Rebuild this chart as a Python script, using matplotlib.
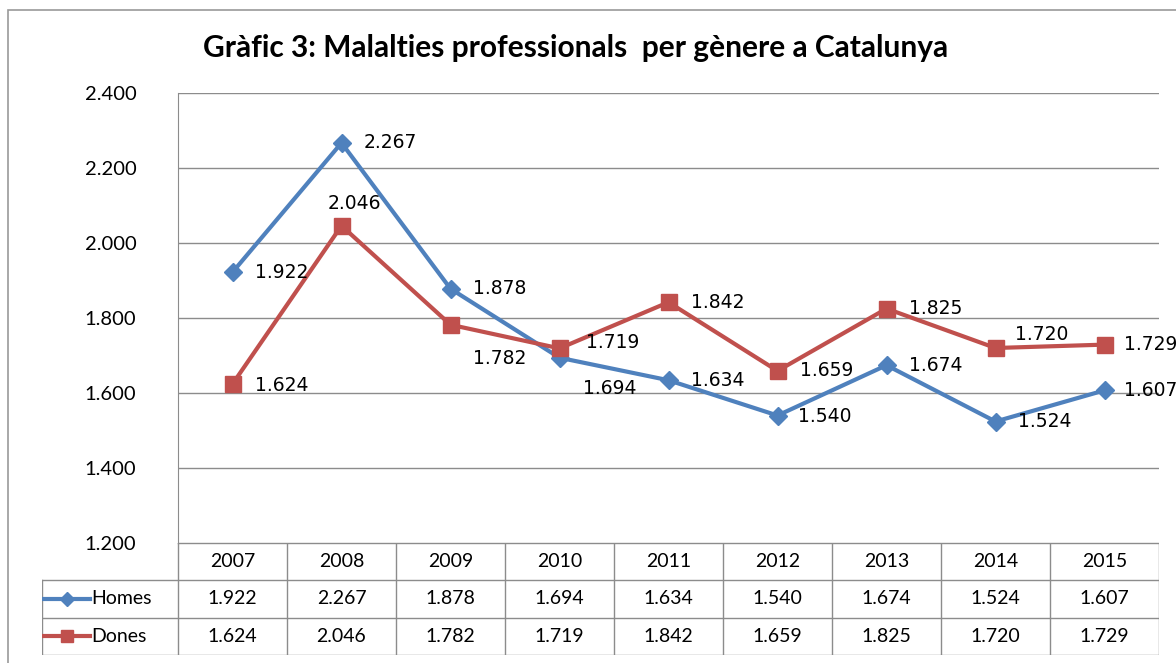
import matplotlib.pyplot as plt
import numpy as np

# Dades
anys = ['2007', '2008', '2009', '2010', '2011', '2012', '2013', '2014', '2015']
homes = [1922, 2267, 1878, 1694, 1634, 1540, 1674, 1524, 1607]
dones = [1624, 2046, 1782, 1719, 1842, 1659, 1825, 1720, 1729]
titol = 'Gràfic 3: Malalties professionals  per gènere a Catalunya'

# posicio de les etiquetes (desplaçament en punts)
off_homes = [(16, 0), (16, 0), (16, 0), (17, -22), (16, 0), (15, -1), (16, 0), (16, 0), (14, 0)]
off_dones = [(16, -1), (9, 16), (16, -24), (19, 4), (16, 0), (16, 0), (16, 0), (14, 10), (14, 0)]

blau = '#4F81BD'
vermell = '#C0504D'
gris = '#8C8C8C'
fnt = 'Lato'

W, H = 1176, 663
fig = plt.figure(figsize=(W / 100, H / 100), dpi=100)

# marc exterior
fig.add_artist(plt.Rectangle((8 / W, -0.1), 1.2, (H - 10) / H + 0.1,
                             transform=fig.transFigure, fill=False,
                             ec='#9a9a9a', lw=1.2))

fig.text(576 / W, 1 - 48 / H, titol, ha='center', va='center',
         fontsize=21.5, fontweight='bold', family=fnt)

x = np.arange(len(anys))
ax = fig.add_axes([178 / W, (H - 543) / H, (1159 - 178) / W, (543 - 93) / H])
ax.set_xlim(-0.5, len(anys) - 0.5)
ax.set_ylim(1200, 2400)
ax.set_yticks(np.arange(1200, 2401, 200))
ax.set_yticklabels(['{:.3f}'.format(v / 1000) for v in np.arange(1200, 2401, 200)],
                   family=fnt, fontsize=14.5)
ax.tick_params(axis='y', length=0, pad=30)
ax.set_xticks([])
ax.grid(axis='y', color=gris, lw=1)
for s in ['top', 'right', 'bottom']:
    ax.spines[s].set_visible(False)
ax.spines['left'].set_color(gris)

ax.plot(x, homes, color=blau, lw=3, marker='D', ms=9, zorder=3)
ax.plot(x, dones, color=vermell, lw=3, marker='s', ms=12, zorder=3)

for i in range(len(anys)):
    for val, off in ((homes[i], off_homes[i]), (dones[i], off_dones[i])):
        ha = 'center' if i == 1 and val == dones[1] else 'left'
        ax.annotate('{:.3f}'.format(val / 1000), (x[i], val), xytext=off,
                    textcoords='offset points', ha=ha, va='center',
                    fontsize=13.5, family='DejaVu Sans', zorder=4,
                    annotation_clip=False)

# taula de dades
leg_w = (178 - 42) / 109
tb = fig.add_axes([42 / W, (H - 655) / H, (1159 - 42) / W, (655 - 543) / H])
tb.set_xlim(-0.5 - leg_w, len(anys) - 0.5)
tb.set_ylim(3, 0)
tb.axis('off')
xr = len(anys) - 0.5
tb.plot([-0.5, xr], [0, 0], color=gris, lw=1)
for r in [1, 2, 3]:
    tb.plot([-0.5 - leg_w, xr], [r, r], color=gris, lw=1)
tb.plot([-0.5 - leg_w] * 2, [1, 3], color=gris, lw=1)
for c in range(len(anys) + 1):
    tb.plot([c - 0.5] * 2, [0, 3], color=gris, lw=1)

for i, a in enumerate(anys):
    tb.text(i, 0.5, a, ha='center', va='center', family=fnt, fontsize=14)
    tb.text(i, 1.5, '{:.3f}'.format(homes[i] / 1000), ha='center', va='center',
            family=fnt, fontsize=14)
    tb.text(i, 2.5, '{:.3f}'.format(dones[i] / 1000), ha='center', va='center',
            family=fnt, fontsize=14)

x0 = -0.5 - leg_w
tb.plot([x0 + 0.02, x0 + 0.44], [1.5, 1.5], color=blau, lw=3)
tb.plot([x0 + 0.23], [1.5], color=blau, marker='D', ms=7)
tb.text(x0 + 0.45, 1.5, 'Homes', ha='left', va='center', family=fnt, fontsize=14)
tb.plot([x0 + 0.02, x0 + 0.44], [2.5, 2.5], color=vermell, lw=3)
tb.plot([x0 + 0.23], [2.5], color=vermell, marker='s', ms=9)
tb.text(x0 + 0.45, 2.5, 'Dones', ha='left', va='center', family=fnt, fontsize=14)

fig.savefig('out.png', dpi=100)
